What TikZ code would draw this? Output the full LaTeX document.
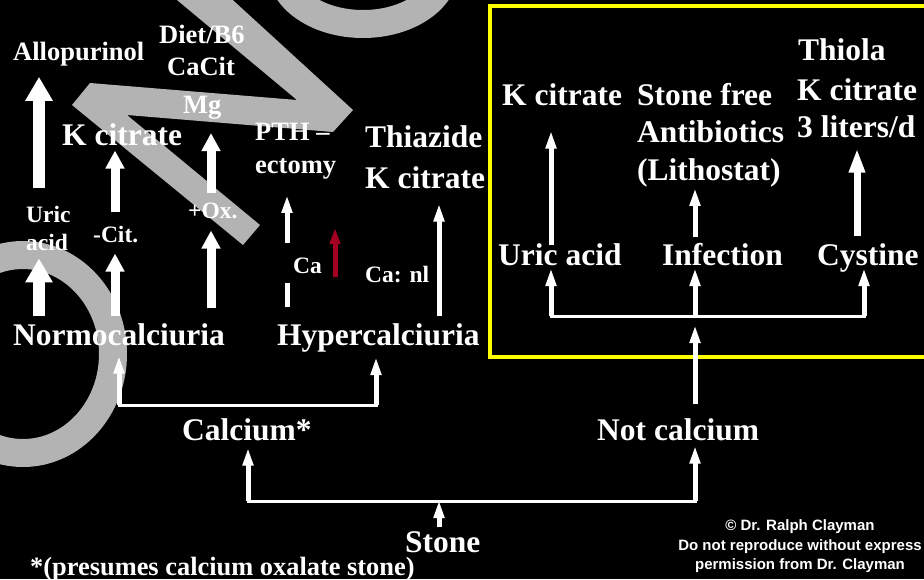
\documentclass[tikz,border=0pt]{standalone}
\usepackage{fontspec}
\setmainfont{Liberation Serif}
\setsansfont{Liberation Sans}
\usetikzlibrary{arrows.meta}
\definecolor{wmgray}{RGB}{179,179,179}
\definecolor{cared}{RGB}{165,0,35}
\definecolor{boxyellow}{RGB}{255,255,0}

\begin{document}
\begin{tikzpicture}[x=1pt, y=-1pt,
  txt/.style={text=white, inner sep=0pt, anchor=base west, font=\bfseries\fontsize{31.5}{36}\selectfont},
  medtxt/.style={txt, font=\bfseries\fontsize{26.5}{30}\selectfont},
  smalltxt/.style={txt, font=\bfseries\fontsize{23.5}{27}\selectfont},
  foottxt/.style={txt, font=\bfseries\fontsize{26.4}{30}\selectfont},
  copytxt/.style={text=white, inner sep=0pt, anchor=base, font=\sffamily\bfseries\fontsize{15}{19}\selectfont},
  fatarrow/.style={white, line width=12pt, -{Triangle[length=24pt, width=26pt]}},
  midarrow/.style={white, line width=9pt, -{Triangle[length=18pt, width=18pt]}},
  thickarrow/.style={white, line width=7pt, -{Triangle[length=24pt, width=15pt]}},
  thinarrow/.style={white, line width=5pt, -{Triangle[length=18pt, width=10pt]}},
  redarrow/.style={cared, line width=5pt, -{Triangle[length=16pt, width=10pt]}},
  bracket/.style={white, line width=3pt, line cap=rect}]

\fill[black] (0,0) rectangle (924,579);
\useasboundingbox (0,0) rectangle (924,579);

% watermark
\fill[wmgray] (141,-30) -- (200,-30) -- (353,110) -- (333,132) -- (127,115)
  -- (260,225) -- (243,245) -- (72,105) -- (90,83) -- (297,100) -- cycle;
\draw[wmgray, line width=28pt] (363,-32) ellipse [x radius=82pt, y radius=56pt];
\draw[wmgray, line width=28pt] (23,354) ellipse [x radius=90pt, y radius=99pt];

% non calcium box
\draw[boxyellow, line width=4pt] (490,6) rectangle (940,357);

% left side
\node[medtxt] (allo) at (13,60) {Allopurinol};
\node[medtxt] (diet) at (159,43) {Diet/B6};
\node[medtxt] (cacit) at (167,75) {CaCit};
\node[medtxt] (mg) at (183,113) {Mg};
\node[txt] (kcitL) at (62,145) {K citrate};
\node[medtxt] (pth) at (255,140) {PTH --};
\node[medtxt] (ecto) at (255,173) {ectomy};
\node[txt] (thia) at (365,147) {Thiazide};
\node[txt] (kcitT) at (365,188) {K citrate};
\node[smalltxt] (uricS) at (26,222) {Uric};
\node[smalltxt] (acidS) at (26,250) {acid};
\node[smalltxt] (cit) at (93,242) {-Cit.};
\node[smalltxt] (ox) at (188,218) {+Ox.};
\node[smalltxt] (caS) at (293,273) {Ca};
\node[smalltxt] (canl) at (365,282) {Ca: nl};
\node[txt] (normo) at (13,345) {Normocalciuria};
\node[txt] (hyper) at (277,345) {Hypercalciuria};
\node[txt] (calc) at (182,440) {Calcium*};
\node[txt] (notc) at (597,440) {Not calcium};
\node[txt] (stone) at (405,552) {Stone};
\node[foottxt] (foot) at (30,575) {*(presumes calcium oxalate stone)};

% inside the box
\node[txt] (kcitB) at (502,105) {K citrate};
\node[txt] (sfree) at (637,105) {Stone free};
\node[txt] (anti) at (637,142) {Antibiotics};
\node[txt] (litho) at (637,180) {(Lithostat)};
\node[txt] (thiola) at (798,60) {Thiola};
\node[txt] (kcitR) at (797,100) {K citrate};
\node[txt] (liters) at (797,137) {3 liters/d};
\node[txt] (uricB) at (498,265) {Uric acid};
\node[txt] (infec) at (662,265) {Infection};
\node[txt] (cyst) at (817,265) {Cystine};

\node[copytxt] (copy1) at (800,530) {© Dr. Ralph Clayman};
\node[copytxt] (copy2) at (800,550) {Do not reproduce without express};
\node[copytxt] (copy3) at (800,569) {permission from Dr. Clayman};

% arrow columns and branch points
\coordinate (cUric) at (39,0);
\coordinate (cCit) at (115,0);
\coordinate (cOx) at (211,0);
\coordinate (cPth) at (287,0);
\coordinate (cThia) at (439,0);
\coordinate (cUa) at (551,0);
\coordinate (cInf) at (695,0);
\coordinate (cCy) at (857,0);
\coordinate (brCa) at (248,501);
\coordinate (brNot) at (695,501);
\coordinate (brN) at (119,405);
\coordinate (brH) at (376,405);
\coordinate (brUa) at (551,316);
\coordinate (brInf) at (695,316);
\coordinate (brCy) at (864,316);
\coordinate (redtail) at (335,277);
\coordinate (redtip) at (335,228);

% stone
\draw[bracket] (brCa) -- (brNot);
\draw[thinarrow, shorten <=3.5pt, shorten >=-1pt] (stone.north -| cThia) -- (brCa -| cThia);
\draw[thinarrow, shorten >=7pt] (brCa) -- (calc.south -| brCa);
\draw[thinarrow, shorten >=5pt] (brNot) -- (notc.south -| brNot);

% calcium
\draw[bracket] (brN) -- (brH);
\draw[thinarrow, shorten >=10pt] (brN) -- (normo.south -| brN);
\draw[thinarrow, shorten >=5pt] (brH) -- (hyper.south -| brH);
\draw[fatarrow, shorten <=6.7pt, shorten >=8pt] (normo.north -| cUric) -- (acidS.south -| cUric);
\draw[fatarrow, shorten <=17pt, shorten >=11pt] (uricS.north -| cUric) -- (allo.south -| cUric);
\draw[midarrow, shorten <=6.7pt, shorten >=11pt] (normo.north -| cCit) -- (cit.south -| cCit);
\draw[midarrow, shorten <=13pt, shorten >=5pt] (cit.north -| cCit) -- (kcitL.south -| cCit);
\draw[midarrow, shorten <=14.7pt, shorten >=12pt] (normo.north -| cOx) -- (ox.south -| cOx);
\draw[midarrow, shorten <=9pt, shorten >=14pt] (ox.north -| cOx) -- (mg.south -| cOx);
\draw[thinarrow, dash pattern=on 24pt off 40pt on 200pt, shorten <=15.7pt, shorten >=16pt] (hyper.north -| cPth) -- (ecto.south -| cPth);
\draw[redarrow] (redtail) -- (redtip);
\draw[thinarrow, shorten <=6.7pt, shorten >=15pt] (hyper.north -| cThia) -- (kcitT.south -| cThia);

% not calcium
\draw[thinarrow, shorten <=13.7pt, shorten >=9pt] (notc.north -| brInf) -- (brInf);
\draw[bracket] (brUa) -- (brCy);
\draw[thinarrow, shorten >=3pt] (brUa) -- (uricB.base -| brUa);
\draw[thinarrow, shorten >=3pt] (brInf) -- (infec.base -| brInf);
\draw[thinarrow, shorten >=3pt] (brCy) -- (cyst.base -| brCy);
\draw[thinarrow, shorten <=-2pt, shorten >=25pt] (uricB.north -| cUa) -- (kcitB.south -| cUa);
\draw[thinarrow, shorten <=6pt, shorten >=1pt] (infec.north -| cInf) -- (litho.south -| cInf);
\draw[thickarrow, shorten <=7pt, shorten >=11pt] (cyst.north -| cCy) -- (liters.south -| cCy);
\end{tikzpicture}
\end{document}
